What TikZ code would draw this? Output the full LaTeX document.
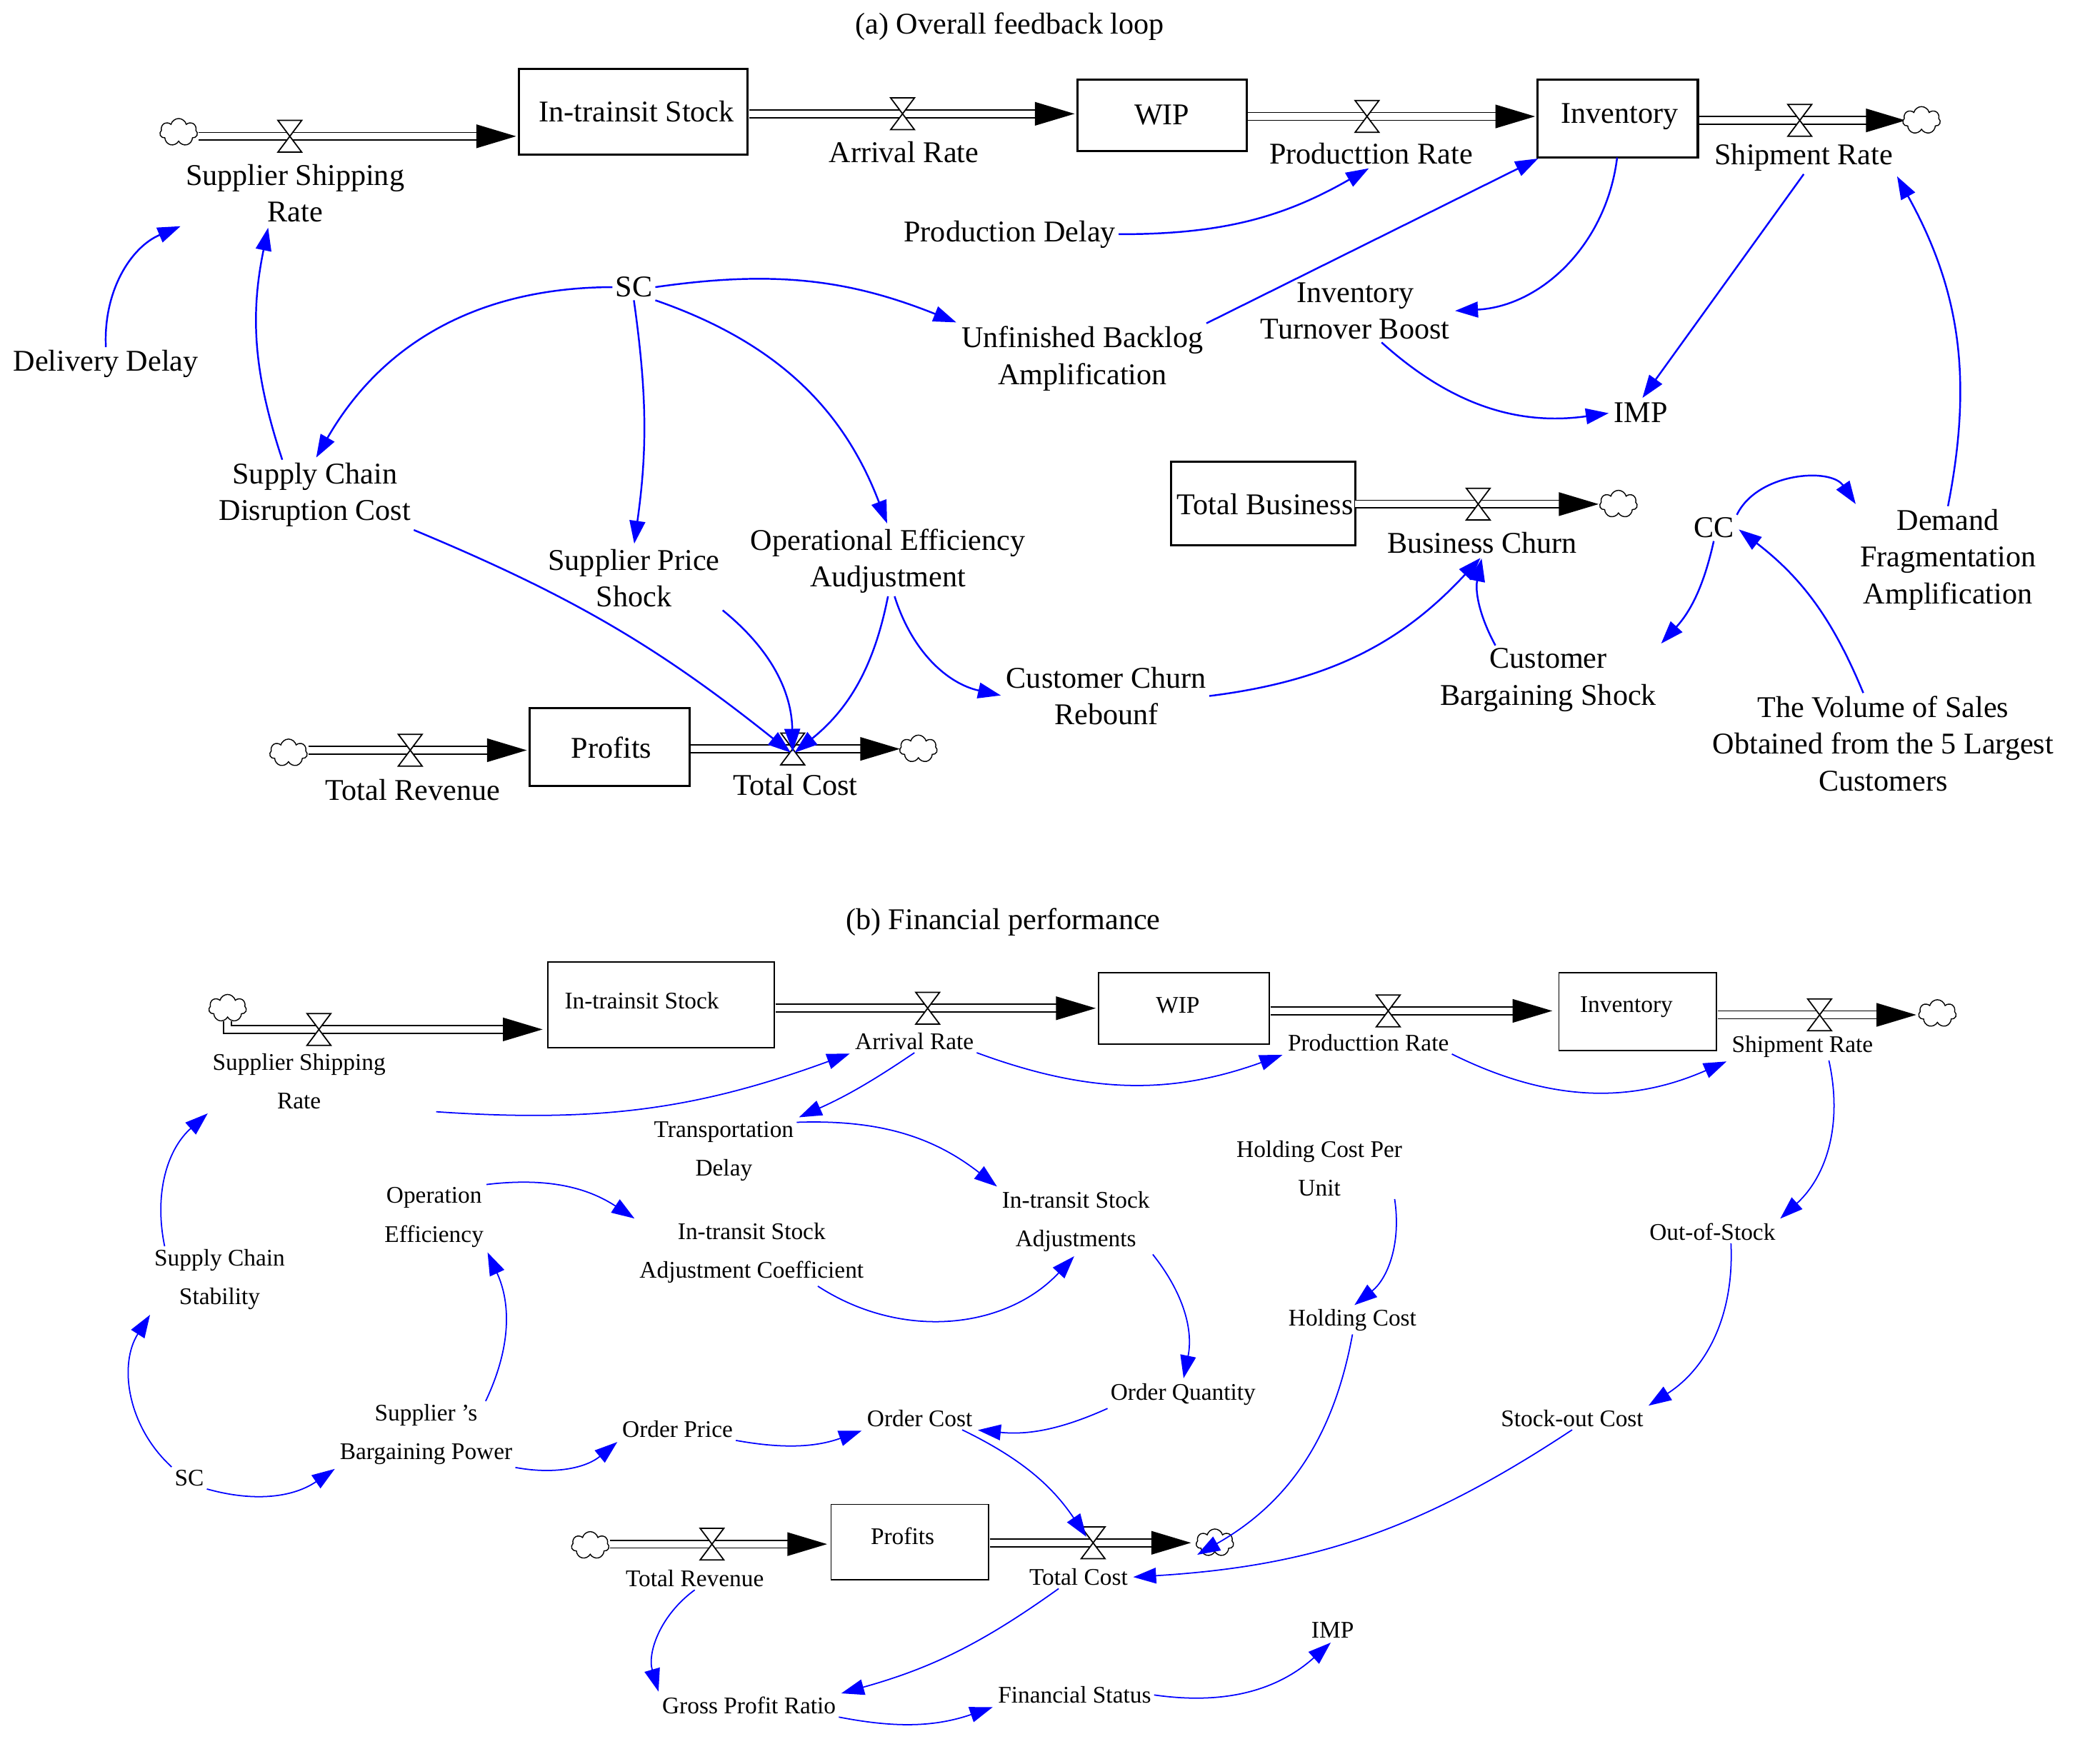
\documentclass[tikz,border=0pt]{standalone}
\usepackage{fontspec}
\setmainfont{Liberation Serif}
\usetikzlibrary{shapes.symbols,arrows.meta,calc}
\begin{document}
\begin{tikzpicture}[x=0.01853cm,y=-0.01853cm,
  la/.style={align=center,inner sep=1pt,font=\fontsize{12}{14.7}\selectfont},
  lb/.style={align=center,inner sep=1pt,font=\fontsize{9.5}{15.4}\selectfont},
  stka/.style={draw,line width=0.9pt},
  stkb/.style={draw,line width=0.5pt},
  cl/.style={cloud,draw,cloud puffs=7,minimum width=15pt,minimum height=11pt,inner sep=0pt,fill=white,aspect=1.4},
  fl/.style={double,double distance=2.6pt,line width=0.5pt},
  ca/.style={blue,line width=0.7pt,-{Triangle[length=0.32cm,width=0.22cm]},shorten >=1pt},
  cb/.style={blue,line width=0.5pt,-{Triangle[length=0.32cm,width=0.22cm]},shorten >=1pt}]
\useasboundingbox (0,0) rectangle (1568,1333);
\newcommand\myvalve[2]{\filldraw[fill=white,line width=0.5pt] (#1-9,#2-12)--(#1+9,#2-12)--(#1-9,#2+12)--(#1+9,#2+12)--cycle;}
\newcommand\myflow[4]{\draw[fl] (#1,#3)--(#2-28,#3); \fill (#2-30,#3-9)--(#2,#3)--(#2-30,#3+9)--cycle; \myvalve{#4}{#3}}
% ================= (a)
\node[la] at (763,20) {(a) Overall feedback loop};
\node[cl] (c1) at (135,100) {};
\draw[fl] (150,103)--(362,103); \fill (360,94)--(390,103)--(360,112)--cycle; \myvalve{219}{103}
\draw[stka] (392,52) rectangle (565,117);
\node[la] (its) at (481,84) {In-trainsit Stock};
\myflow{566}{812}{86}{682}
\draw[stka] (814,60) rectangle (942,114);
\node[la] (wip) at (878,87) {WIP};
\myflow{943}{1160}{88}{1033}
\draw[stka] (1162,60) rectangle (1283,119);
\coordinate (invsw) at (1164,119);
\coordinate (invs) at (1222,119);
\node[la] (inv) at (1224,88) {Inventory};
\myflow{1284}{1440}{91}{1360}
\node[cl] at (1452,91) {};
\node[la] (ssr) at (223,146) {Supplier Shipping\\Rate};
\node[la] (ar) at (683,115) {Arrival Rate};
\node[la] (pr) at (1036,116) {Producttion Rate};
\node[la] (sr) at (1363,119) {Shipment Rate};
\node[la] (pd) at (763,177) {Production Delay};
\node[la] (dd) at (80,275) {Delivery Delay};
\node[la] (sc) at (479,217) {SC};
\node[la] (uba) at (818,271) {Unfinished Backlog\\Amplification};
\node[la] (itb) at (1024,235) {Inventory\\Turnover Boost};
\node[la] (imp) at (1240,312) {IMP};
\node[la] (scdc) at (238,374) {Supply Chain\\Disruption Cost};
\node[la] (sps) at (479,437) {Supplier Price\\Shock};
\node[la] (oea) at (671,424) {Operational Efficiency\\Audjustment};
\node[la] (ccr) at (836,526) {Customer Churn\\Rebounf};
\draw[stka] (885,349) rectangle (1024,412);
\node[la] (tb) at (956,381) {Total Business};
\myflow{1024}{1208}{381}{1117}
\node[cl] at (1223,381) {};
\node[la] (bc) at (1120,410) {Business Churn};
\node[la] (cbs) at (1170,514) {Customer\\Bargaining Shock};
\node[la] (cc) at (1295,399) {CC};
\node[la] (dfa) at (1472,423) {Demand\\Fragmentation\\Amplification};
\node[la] (vol) at (1423,562) {The Volume of Sales\\Obtained from the 5 Largest\\Customers};
\draw[stka] (400,535) rectangle (521,594);
\node[la] (pf) at (462,565) {Profits};
\node[cl] at (218,569) {};
\myflow{233}{398}{567}{310}
\node[la] (tr) at (312,597) {Total Revenue};
\myflow{522}{680}{566}{599}
\coordinate (vtc) at (599,570);
\node[cl] at (694,566) {};
\node[la] (tc) at (601,593) {Total Cost};
% arrows a
\draw[ca] (dd.north) to[bend left=35] (ssr.south west);
\draw[ca] ($(scdc.north west)+(50,0)$) to[bend left=15] ($(ssr.south)+(-20,0)$);
\draw[ca] (sc.west) to[bend right=30] (scdc.north);
\draw[ca] (sc.east) to[bend left=15] (uba.north west);
\draw[ca] (sc.south) to[bend left=8] (sps.north);
\draw[ca] (sc.south east) to[bend left=25] (oea.north);
\draw[ca] (pd.east) to[bend right=15] (pr.south);
\draw[ca] (uba.north east) to (invsw);
\draw[ca] (invs) to[bend left=40] (itb.east);
\draw[ca] ($(itb.south)+(20,0)$) to[bend right=25] (imp.west);
\draw[ca] (sr.south) to (imp.north);
\draw[ca] (dfa.north) to[bend right=20] (sr.south east);
\draw[ca] (cc.north east) to[bend left=60] (dfa.north west);
\draw[ca] (cc.south) to[bend left=15] (cbs.north east);
\draw[ca] ($(vol.north)+(-15,0)$) to[bend right=15] (cc.east);
\draw[ca] ($(cbs.north)+(-40,0)$) to[bend left=20] (bc.south);
\draw[ca] (ccr.east) to[bend right=20] (bc.south);
\draw[ca] ($(oea.south)+(5,0)$) to[bend right=30] (ccr.west);
\draw[ca] (oea.south) to[bend left=20] (vtc);
\draw[ca] (sps.south east) to[bend left=25] (vtc);
\draw[ca] (scdc.south east) to[bend left=8] (vtc);
% ================= (b)
\node[la] at (758,697) {(b) Financial performance};
\node[cl] at (172,762) {};
\draw[fl] (172,772)--(172,778)--(382,778); \fill (380,769)--(410,778)--(380,787)--cycle; \myvalve{241}{778}
\draw[stkb] (414,727) rectangle (585,792);
\node[lb] at (485,756) {In-trainsit Stock};
\myflow{586}{828}{762}{701}
\draw[stkb] (830,735) rectangle (959,789);
\node[lb] at (890,760) {WIP};
\myflow{960}{1173}{764}{1049}
\draw[stkb] (1178,735) rectangle (1297,794);
\node[lb] at (1229,761) {Inventory};
\myflow{1298}{1448}{767}{1375}
\node[cl] at (1464,766) {};
\draw[stkb] (628,1137) rectangle (747,1194);
\node[lb] at (682,1161) {Profits};
\node[cl] at (446,1168) {};
\myflow{461}{625}{1167}{538}
\myflow{748}{900}{1166}{826}
\node[cl] at (918,1166) {};
\node[lb] (bssr) at (226,817) {Supplier Shipping\\Rate};
\node[lb] (bar) at (691,787) {Arrival Rate};
\node[lb] (bpr) at (1034,788) {Producttion Rate};
\node[lb] (bsr) at (1362,791) {Shipment Rate};
\node[lb] (btd) at (547,870) {Transportation\\Delay};
\node[lb] (bhcp) at (997,883) {Holding Cost Per\\Unit};
\node[lb] (boe) at (328,920) {Operation\\Efficiency};
\node[lb] (bac) at (568,947) {In-transit Stock\\Adjustment Coefficient};
\node[lb] (bsa) at (813,923) {In-transit Stock\\Adjustments};
\node[lb] (boos) at (1294,931) {Out-of-Stock};
\node[lb] (bscs) at (166,967) {Supply Chain\\Stability};
\node[lb] (bhc) at (1022,998) {Holding Cost};
\node[lb] (boq) at (894,1054) {Order Quantity};
\node[lb] (bsbp) at (322,1084) {Supplier 's\\Bargaining Power};
\node[lb] (bop) at (512,1080) {Order Price};
\node[lb] (boc) at (695,1072) {Order Cost};
\node[lb] (bsoc) at (1188,1072) {Stock-out Cost};
\node[lb] (bsc) at (143,1117) {SC};
\node[lb] (btr) at (525,1193) {Total Revenue};
\node[lb] (btc) at (815,1192) {Total Cost};
\coordinate (bvtc) at (822,1163);
\coordinate (bvtc2) at (903,1176);
\node[lb] (bimp) at (1007,1232) {IMP};
\node[lb] (bfs) at (812,1281) {Financial Status};
\node[lb] (bgpr) at (566,1289) {Gross Profit Ratio};
% arrows b
\draw[cb] ($(bssr.south east)+(36,0)$) to[bend right=12] (bar.south west);
\draw[cb] (bar.south) to[bend left=5] (btd.north east);
\draw[cb] (bar.south east) to[bend right=20] (bpr.south west);
\draw[cb] (bpr.south east) to[bend right=25] (bsr.south west);
\draw[cb] ($(bsr.south)+(20,0)$) to[bend left=30] (boos.north east);
\draw[cb] ($(btd.north east)+(0,3)$) to[bend left=20] (bsa.north west);
\draw[cb] ($(bhcp.south east)+(-8,0)$) to[bend left=30] (bhc.north);
\draw[cb] (boe.north east) to[bend left=20] (bac.north west);
\draw[cb] ($(bac.south)+(50,0)$) to[bend right=40] (bsa.south);
\draw[cb] (bsa.south east) to[bend left=25] (boq.north);
\draw[cb] ($(bscs.north west)+(10,0)$) to[bend left=30] (bssr.south west);
\draw[cb] (bsc.north west) to[bend left=40] (bscs.south west);
\draw[cb] (bsc.south east) to[bend right=25] (bsbp.south west);
\draw[cb] ($(bsbp.north)+(45,0)$) to[bend right=25] (boe.south east);
\draw[cb] (bsbp.south east) to[bend right=25] (bop.south west);
\draw[cb] (bop.south east) to[bend right=15] (boc.south west);
\draw[cb] (boq.south west) to[bend left=15] (boc.south east);
\draw[cb] ($(boc.south east)+(-10,0)$) to[bend left=15] (bvtc);
\draw[cb] (bhc.south) to[bend left=25] (bvtc2);
\draw[cb] ($(boos.south)+(14,0)$) to[bend left=30] (bsoc.north east);
\draw[cb] (bsoc.south) to[bend left=15] (btc.east);
\draw[cb] (btr.south) to[bend right=35] (bgpr.north west);
\draw[cb] ($(btc.south)+(-15,0)$) to[bend left=10] (bgpr.north east);
\draw[cb] (bgpr.south east) to[bend right=15] (bfs.south west);
\draw[cb] (bfs.east) to[bend right=25] (bimp.south);
\end{tikzpicture}
\end{document}
